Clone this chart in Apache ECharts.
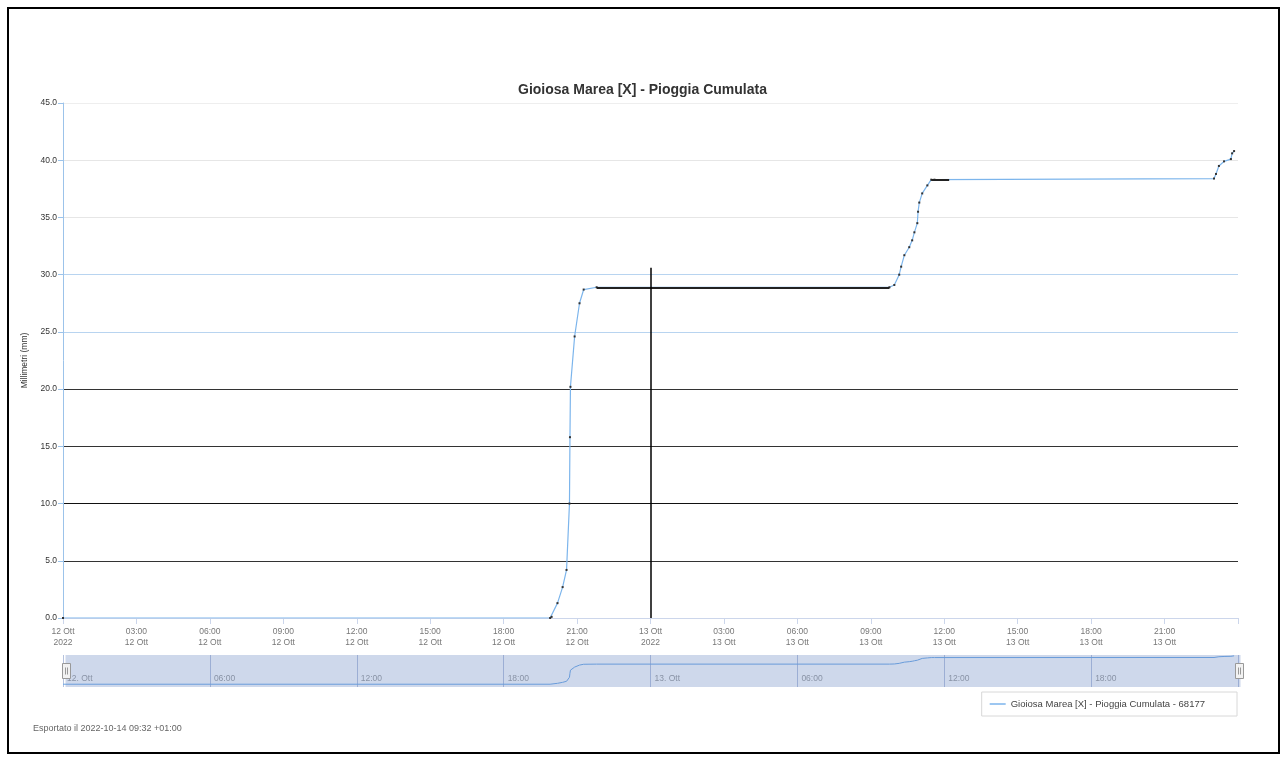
<!DOCTYPE html>
<html>
<head>
<meta charset="utf-8">
<script src="https://cdn.jsdelivr.net/npm/echarts@6/dist/echarts.min.js"></script>
<style>
  html, body { margin: 0; padding: 0; background: #fff; }
  #frame { position: absolute; left: 7px; top: 7px; width: 1269px; height: 743px; border: 2px solid #000; }
  #main { position: absolute; left: 0; top: 0; width: 1285px; height: 760px; }
</style>
</head>
<body>
<div id="frame"></div>
<div id="main"></div>
<script>
  'use strict';
  var seriesName = 'Gioiosa Marea [X] - Pioggia Cumulata - 68177';

  // ore dalla mezzanotte del 12 Ott 2022
  var hours = [0, 19.9, 19.96, 20.2, 20.41, 20.57, 20.69, 20.71, 20.73, 20.9, 21.1, 21.27, 21.8,
    33.76, 33.96, 34.16, 34.24, 34.37, 34.57, 34.69, 34.78, 34.9, 34.93, 34.98, 35.1, 35.31, 35.47, 35.6,
    47.02, 47.1, 47.22, 47.43, 47.71, 47.76, 47.84];
  // pioggia cumulata (mm)
  var rain = [0, 0, 0.1, 1.3, 2.7, 4.2, 10.0, 15.8, 20.2, 24.6, 27.5, 28.7, 28.9,
    28.9, 29.1, 30.0, 30.7, 31.7, 32.4, 33.0, 33.7, 34.5, 35.5, 36.3, 37.1, 37.8, 38.3, 38.3,
    38.4, 38.8, 39.5, 39.9, 40.1, 40.6, 40.8];

  var xTickLabels = ['12 Ott\n2022', '03:00\n12 Ott', '06:00\n12 Ott', '09:00\n12 Ott', '12:00\n12 Ott',
    '15:00\n12 Ott', '18:00\n12 Ott', '21:00\n12 Ott', '13 Ott\n2022', '03:00\n13 Ott', '06:00\n13 Ott',
    '09:00\n13 Ott', '12:00\n13 Ott', '15:00\n13 Ott', '18:00\n13 Ott', '21:00\n13 Ott', ''];
  var navTickLabels = ['12. Ott', '06:00', '12:00', '18:00', '13. Ott', '06:00', '12:00', '18:00', ''];
  var splitColors = ['#ccd6eb', '#333333', '#111111', '#333333', '#333333', '#b8d4f0', '#b8d4f0', '#e6e6e6', '#e6e6e6', '#eeeeee'];

  // segmenti scuri e linea verticale visibili nell'immagine
  var darkSegments = [[[21.8, 28.9], [33.76, 28.9]], [[35.47, 38.3], [36.2, 38.3]]];
  var crossLine = [[24, 0], [24, 30.6]];

  var data = hours.map(function (h, i) { return [h, rain[i]]; });

  var myChart = echarts.init(document.getElementById('main'));
  var font = 'Liberation Sans, Arial, sans-serif';

  var marks = darkSegments.map(function (s) {
    return [{ coord: s[0], lineStyle: { color: '#222', width: 2, type: 'solid' } }, { coord: s[1] }];
  });
  marks.push([{ coord: crossLine[0], lineStyle: { color: '#000', width: 1.5, type: 'solid' } }, { coord: crossLine[1] }]);

  var option = {
    animation: false,
    textStyle: { fontFamily: font },
    title: {
      text: 'Gioiosa Marea [X] - Pioggia Cumulata',
      left: 'center', top: 78,
      textStyle: { fontSize: 14, fontWeight: 'bold', color: '#333', fontFamily: font }
    },
    graphic: [{
      type: 'text', left: 33, top: 724,
      style: { text: 'Esportato il 2022-10-14 09:32 +01:00', fill: '#666', fontSize: 9, fontFamily: font }
    }],
    legend: {
      right: 48, top: 692,
      data: [seriesName],
      icon: 'rect', itemWidth: 16, itemHeight: 1.5, itemGap: 6,
      itemStyle: { color: '#7cb5ec' },
      borderColor: '#d8d8d8', borderWidth: 1, borderRadius: 0,
      padding: [7, 32, 7, 8],
      textStyle: { fontSize: 9.5, color: '#444', fontFamily: font }
    },
    grid: [
      { left: 63, right: 47, top: 103, bottom: 142 },
      { left: 63, right: 47, top: 655, height: 32 }
    ],
    xAxis: [{
      type: 'value', gridIndex: 0, min: 0, max: 48, interval: 3,
      axisLine: { show: true, lineStyle: { color: '#ccd6eb' } },
      axisTick: { show: true, length: 6, lineStyle: { color: '#ccd6eb' } },
      splitLine: { show: false },
      axisLabel: {
        fontSize: 8.5, color: '#777', lineHeight: 11, margin: 8,
        formatter: function (v) { return xTickLabels[Math.round(v / 3)]; }
      }
    }, {
      type: 'value', gridIndex: 1, min: 0, max: 48, interval: 6,
      axisLine: { show: false }, axisTick: { show: false },
      splitLine: { show: true, lineStyle: { color: '#b5c2de', width: 1 } },
      axisLabel: {
        inside: true, align: 'left', verticalAlign: 'bottom', margin: 4,
        padding: [0, 0, 0, 4], fontSize: 8.5, color: '#999',
        formatter: function (v) { return navTickLabels[Math.round(v / 6)]; }
      }
    }],
    yAxis: [{
      type: 'value', gridIndex: 0, min: 0, max: 45, interval: 5,
      name: 'Millimetri (mm)', nameLocation: 'middle', nameGap: 26,
      nameTextStyle: { fontSize: 8.5, color: '#333' },
      axisLine: { show: true, lineStyle: { color: '#9cc3ea' } },
      axisTick: { show: true, length: 5, lineStyle: { color: '#9cc3ea' } },
      axisLabel: {
        fontSize: 8.5, color: '#333', margin: 6,
        formatter: function (v) { return v.toFixed(1); }
      },
      splitLine: { show: true, lineStyle: { color: splitColors, width: 1.2 } }
    }, {
      type: 'value', gridIndex: 1, min: -4, max: 42,
      show: false, splitLine: { show: false }
    }],
    dataZoom: [{
      type: 'slider', xAxisIndex: 0, start: 0, end: 100,
      left: 63, right: 47, top: 655, height: 32,
      showDetail: false, brushSelect: false, moveHandleSize: 0,
      backgroundColor: 'transparent', borderColor: 'transparent',
      fillerColor: 'rgba(102,133,194,0.32)',
      dataBackground: { lineStyle: { opacity: 0 }, areaStyle: { opacity: 0 } },
      selectedDataBackground: { lineStyle: { opacity: 0 }, areaStyle: { opacity: 0 } },
      handleIcon: 'path://M0,0 H8 V15 H0 Z M3,4 V11 M5,4 V11',
      handleSize: 15,
      handleStyle: { color: '#f2f2f2', borderColor: '#999', borderWidth: 1 }
    }],
    series: [{
      name: seriesName, type: 'line', xAxisIndex: 0, yAxisIndex: 0,
      data: data,
      showSymbol: true, symbol: 'rect', symbolSize: 2,
      itemStyle: { color: '#333' },
      lineStyle: { color: '#7cb5ec', width: 1.2 },
      markLine: {
        silent: true, symbol: 'none', label: { show: false },
        data: marks
      }
    }, {
      name: 'nav', type: 'line', xAxisIndex: 1, yAxisIndex: 1,
      data: data, showSymbol: false,
      lineStyle: { color: '#6aa6e6', width: 1 },
      itemStyle: { color: '#6aa6e6' }
    }]
  };
  myChart.setOption(option);
</script>
</body>
</html>
